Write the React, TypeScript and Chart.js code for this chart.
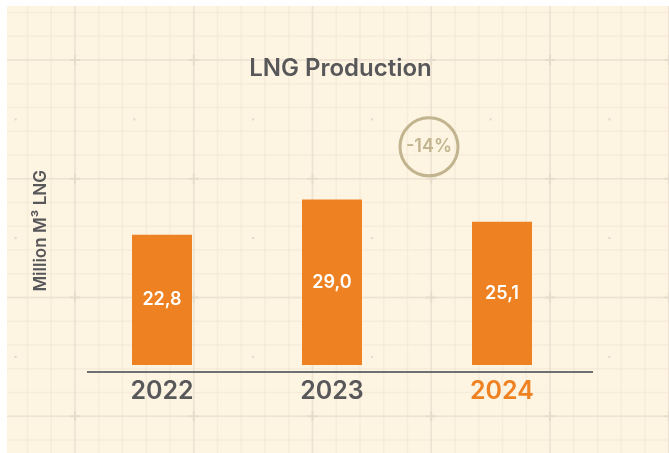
import { useEffect, useRef } from 'react';
import { Chart, registerables } from 'chart.js';

Chart.register(...registerables);

// ---- data ----
const categories = ['2022', '2023', '2024'];
const production = [22.8, 29.0, 25.1];
const highlightYear = '2024';
const changeLabel = '-14%';
const chartTitle = 'LNG Production';
const yAxisTitle = 'Million M³ LNG';
const yMax = 47;

// ---- style ----
const ORANGE = '#EE8222';
const GREY = '#58585A';
const TAN = '#C2B48F';
const CREAM = '#FDF4E2';
const FONT = 'Inter, "Noto Sans", sans-serif';

const fmt = (v: number) => v.toFixed(1).replace('.', ',');

const bgPlugin = {
  id: 'bgGrid',
  beforeDraw(chart: any) {
    const { ctx, width, height } = chart;
    ctx.save();
    ctx.fillStyle = CREAM;
    ctx.fillRect(0, 0, width, height);
    const major = 118.75;
    const minor = major / 5;
    const x0 = 68;
    const y0 = 54;
    // minor lines
    ctx.strokeStyle = 'rgba(238,226,208,0.4)';
    ctx.lineWidth = 1.5;
    for (let x = x0 - major * 2; x < width; x += minor) {
      ctx.beginPath();
      ctx.moveTo(x, 0);
      ctx.lineTo(x, height);
      ctx.stroke();
    }
    for (let y = y0 - major * 2; y < height; y += minor) {
      ctx.beginPath();
      ctx.moveTo(0, y);
      ctx.lineTo(width, y);
      ctx.stroke();
    }
    // major lines
    ctx.strokeStyle = 'rgba(232,220,204,0.55)';
    ctx.lineWidth = 1.5;
    for (let x = x0 - major; x < width; x += major) {
      ctx.beginPath();
      ctx.moveTo(x, 0);
      ctx.lineTo(x, height);
      ctx.stroke();
    }
    for (let y = y0 - major; y < height; y += major) {
      ctx.beginPath();
      ctx.moveTo(0, y);
      ctx.lineTo(width, y);
      ctx.stroke();
    }
    // crosses and dots
    for (let x = x0 - major; x < width + major; x += major) {
      for (let y = y0 - major; y < height + major; y += major) {
        ctx.strokeStyle = 'rgba(228,218,204,0.8)';
        ctx.lineWidth = 2;
        ctx.beginPath();
        ctx.moveTo(x - 5, y);
        ctx.lineTo(x + 5, y);
        ctx.moveTo(x, y - 5);
        ctx.lineTo(x, y + 5);
        ctx.stroke();
        ctx.fillStyle = '#E0D8CC';
        ctx.fillRect(x + major / 2 - 1, y + major / 2 - 1, 2, 2);
      }
    }
    ctx.restore();
  },
};

const decoPlugin = {
  id: 'deco',
  afterDatasetsDraw(chart: any) {
    const { ctx, chartArea } = chart;
    const meta = chart.getDatasetMeta(0);
    ctx.save();
    // bar value labels
    ctx.fillStyle = '#FFFFFF';
    ctx.font = `600 18px ${FONT}`;
    ctx.textAlign = 'center';
    ctx.textBaseline = 'middle';
    meta.data.forEach((bar: any, i: number) => {
      const { x, y, base } = bar.getProps(['x', 'y', 'base'], true);
      ctx.fillText(fmt(production[i]), x, (y + base) / 2);
    });
    // axis line
    ctx.strokeStyle = '#707070';
    ctx.lineWidth = 2;
    ctx.beginPath();
    ctx.moveTo(chartArea.left + 10, chartArea.bottom + 7);
    ctx.lineTo(chartArea.right + 6, chartArea.bottom + 7);
    ctx.stroke();
    // change badge
    const xs = chart.scales.x;
    const ys = chart.scales.y;
    const cx = (xs.getPixelForValue(1) + xs.getPixelForValue(2)) / 2 + 12;
    const cy = ys.getPixelForValue(38.2);
    ctx.strokeStyle = TAN;
    ctx.lineWidth = 3;
    ctx.beginPath();
    ctx.arc(cx, cy, 29, 0, Math.PI * 2);
    ctx.stroke();
    ctx.fillStyle = TAN;
    ctx.font = `600 18px ${FONT}`;
    ctx.fillText(changeLabel, cx, cy);
    ctx.restore();
  },
};

export default function App() {
  const ref = useRef<HTMLCanvasElement>(null);
  useEffect(() => {
    if (!ref.current) return;
    const chart = new Chart(ref.current, {
      type: 'bar',
      data: {
        labels: categories,
        datasets: [
          {
            data: production,
            backgroundColor: ORANGE,
            borderWidth: 0,
            barPercentage: 0.353,
            categoryPercentage: 1,
          },
        ],
      },
      options: {
        responsive: false,
        animation: false,
        events: [],
        layout: { padding: { left: 5, right: 0, top: 0, bottom: 35.6 } },
        plugins: {
          legend: { display: false },
          tooltip: { enabled: false },
          title: {
            display: true,
            text: chartTitle,
            color: GREY,
            font: { family: FONT, size: 24, weight: '600' as any, lineHeight: 1.2 },
            padding: { top: 48, bottom: 13.8 },
          },
        },
        scales: {
          x: {
            grid: { display: false, drawTicks: false },
            border: { display: false },
            ticks: {
              padding: 11.2,
              font: { family: FONT, size: 25, weight: '600' as any, lineHeight: 1.2 },
              color: (c: any) => (categories[c.index] === highlightYear ? ORANGE : GREY),
            },
          },
          y: {
            min: 0,
            max: yMax,
            grid: { display: false, drawTicks: false },
            border: { display: false },
            ticks: { display: false },
            title: {
              display: true,
              text: yAxisTitle,
              color: GREY,
              font: { family: FONT, size: 17, weight: '600' as any, lineHeight: 1.2 },
              padding: { top: 18.5, bottom: 26.1 },
            },
          },
          yR: {
            position: 'right',
            grid: { display: false, drawTicks: false },
            border: { display: false },
            ticks: { display: false },
            afterFit: (s: any) => {
              s.width = 82;
            },
          },
        },
      },
      plugins: [bgPlugin, decoPlugin],
    });
    return () => chart.destroy();
  }, []);
  return (
    <canvas
      ref={ref}
      width={662}
      height={447}
      style={{ position: 'absolute', left: 7, top: 6, width: 662, height: 447 }}
    />
  );
}
